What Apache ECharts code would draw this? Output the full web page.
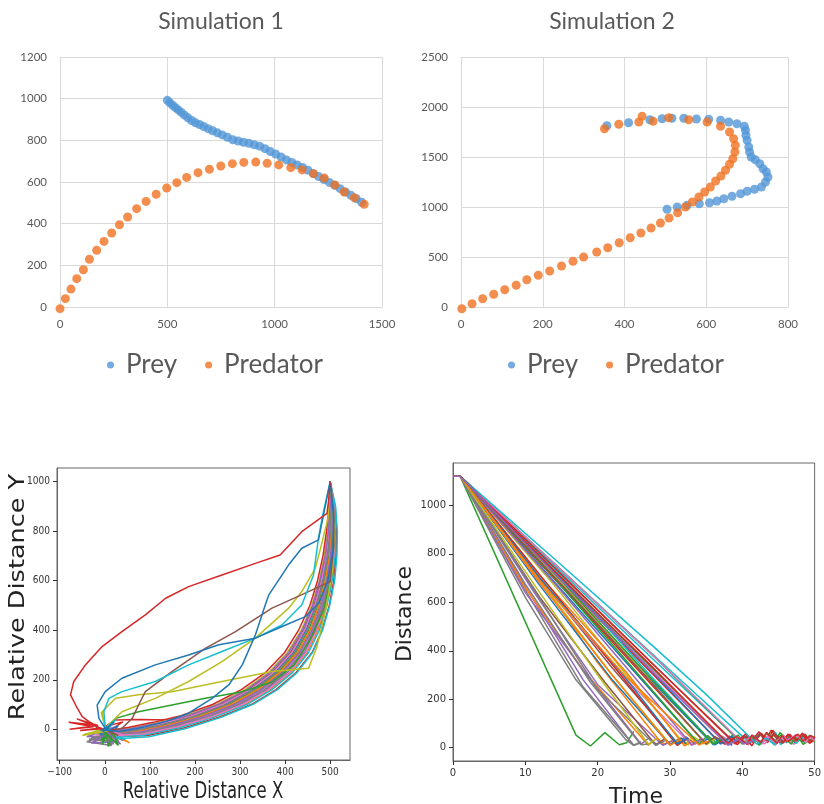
<!DOCTYPE html>
<html><head><meta charset="utf-8">
<script src="https://cdn.jsdelivr.net/npm/echarts@6/dist/echarts.min.js"></script>
<style>html,body{margin:0;padding:0;background:#fff}#c{width:824px;height:804px}</style>
</head><body><div id="c"></div>
<script>
// ---------- Simulation 1 ----------
const sim1PreyX = [500,512,525,538,551,565,580,596,613,631,650,670,690,711,733,756,780,805,830,855,880,905,930,955,980,1005,1030,1055,1080,1105,1130,1155,1180,1205,1230,1255,1280,1305,1330,1355,1380,1405];
const sim1PreyY = [992,980,968,957,946,934,921,908,895,884,876,866,856,846,836,826,815,803,797,791,786,779,772,760,746,734,720,706,694,682,670,657,640,626,612,598,584,568,552,536,520,503];
const sim1PredX = [0,25,51,78,109,137,171,205,241,277,315,357,401,448,497,544,590,643,696,749,803,856,912,965,1019,1075,1128,1181,1231,1280,1324,1371,1417];
const sim1PredY = [-8,40,86,136,179,229,272,315,355,395,432,472,507,541,571,597,622,645,661,677,688,694,696,690,682,669,658,640,619,586,552,525,493];
// ---------- Simulation 2 ----------
const sim2PreyX = [504,529,553,583,608,626,643,663,684,700,718,735,745,751,747,739,731,720,710,706,704,700,697,696,693,675,655,635,606,576,545,516,492,462,410,357];
const sim2PreyY = [977,1000,1017,1033,1043,1060,1083,1107,1133,1157,1177,1200,1250,1300,1350,1383,1433,1473,1500,1550,1600,1667,1717,1767,1807,1833,1850,1867,1877,1880,1887,1887,1883,1873,1843,1813];
const sim2PredX = [2,27,53,80,107,135,161,189,217,246,274,300,332,359,387,414,440,465,488,509,530,549,566,582,596,610,623,636,647,657,665,670,671,667,657,635,602,557,508,470,443,435,386,351];
const sim2PredY = [-17,33,83,127,173,217,273,317,360,410,457,500,550,593,643,693,740,790,840,890,943,1000,1050,1100,1150,1200,1260,1310,1367,1427,1483,1550,1617,1683,1750,1807,1850,1873,1893,1857,1907,1850,1827,1783];

const sim1XTicks = [0, 1500, 500];
const sim1YTicks = [0, 1200, 200];
const sim2XTicks = [0, 800, 200];
const sim2YTicks = [0, 2500, 500];
const legendNames = ['Prey', 'Predator'];

// ---------- Relative distance tracks (x,y flat pairs) ----------
const relativeTracks = [
 [500,1000,511,900,514,800,513,700,508,600,498,500,482,400,460,310,425,230,380,160,325,100,255,50,175,5,95,-25,25,-30,50,-10,10,-20],
 [500,1000,512,850,512,700,500,560,480,430,440,320,371,206,305,139,230,80,142,38,80,40,24,38,0,10,40,30,15,0],
 [500,1000,509,900,511,800,509,700,502,600,491,500,473,400,449,310,413,230,367,160,311,100,241,50,163,8,86,-21,20,-27,50,-50,5,-5,35,-30,10,0],
 [500,1000,507,900,508,800,506,700,498,600,486,500,467,400,443,310,406,230,359,160,302,100,232,51,156,10,82,-18,19,-24,-40,-30,15,5,40,-45,5,-5],
 [500,1000,506,900,506,800,503,700,495,600,482,500,462,400,436,310,399,230,351,160,293,100,223,52,149,13,78,-14,19,-21,30,-50,-20,-20,25,10,0,0],
 [500,1000,504,900,504,800,500,700,491,600,477,500,457,400,430,310,392,230,343,160,284,100,214,52,142,15,74,-10,18,-18,-30,-35,20,-60,-15,-15,35,-20,-25,-50,10,-5],
 [500,1000,512,900,516,800,515,700,510,600,499,500,483,400,461,310,427,230,383,160,328,100,258,48,178,2,98,-30,28,-38,10,-30,40,-10],
 [500,1000,503,900,502,800,497,700,487,600,473,500,452,400,424,310,385,230,335,160,275,100,205,53,135,18,70,-7,18,-15,10,-60,25,-5,-10,-45,5,0],
 [500,1000,502,900,499,800,493,700,483,600,468,500,446,400,418,310,378,230,327,160,266,100,196,53,128,20,66,-3,17,-12,30,15,-10,-20,20,-40],
 [500,1000,500,900,497,800,490,700,479,600,464,500,441,400,412,310,371,230,319,160,257,100,187,54,121,23,62,1,17,-9,-20,10,25,-25],
 [500,1000,499,900,495,800,487,700,476,600,459,500,436,400,405,310,364,230,311,160,248,100,178,54,114,25,58,5,16,-6,-45,-20,10,0],
 [500,1000,497,900,492,800,484,700,472,600,455,500,430,400,399,310,357,230,303,160,239,100,169,55,107,28,54,8,16,-3,20,-40,-10,5],
 [500,1000,504,900,503,800,499,700,489,600,475,500,455,400,427,310,388,230,339,160,280,100,210,52,138,16,72,-8,18,-16,55,-55,15,-10],
 [500,1000,505,900,505,800,501,700,493,600,480,500,460,400,433,310,395,230,347,160,288,100,218,52,145,14,76,-12,18,-20,35,-60,-5,-15,20,-35],
 [500,1000,501,900,498,800,491,700,481,600,466,500,443,400,415,310,374,230,323,160,261,100,191,53,124,22,64,-1,17,-10,15,-55,30,5],
 [500,1000,507,900,507,800,504,700,497,600,484,500,464,400,439,310,402,230,355,160,297,100,227,51,152,12,80,-16,19,-22,-35,-40,20,-50,-5,-5,40,-45],
 [500,1000,510,900,512,800,511,700,504,600,493,500,476,400,452,310,417,230,371,160,315,100,245,50,166,6,88,-23,20,-32,45,-40,20,-15],
 [500,1000,502,900,500,800,495,700,485,600,470,500,449,400,421,310,381,230,331,160,270,100,200,53,131,19,68,-5,17,-14,-40,-50,15,-65,0,0],
 [500,1000,500,900,496,800,489,700,477,600,461,500,438,400,408,310,367,230,315,160,252,100,182,54,117,24,60,3,16,-8,-30,-55,30,-50,0,-5],
 [500,1000,508,900,510,800,508,700,500,600,488,500,470,400,446,310,410,230,363,160,306,100,236,50,159,9,84,-19,20,-25,45,-25,10,-5],
 [500,1000,510,800,503,620,485,480,455,360,420,260,370,190,305,152,223,125,149,98,75,71,24,44,1,4,8,-70,18,-10,30,-65,5,-20,-5,-60,0,0],
 [500,1000,510,820,505,640,490,480,470,330,452,246,371,233,260,193,149,152,75,139,24,125,-6,71,1,4,-8,70,2,10],
 [500,1000,495,850,480,740,467,650,437,556,408,489,334,368,260,273,186,193,112,125,38,71,1,4,-50,-25,10,-5],
 [500,1000,508,880,508,740,500,596,452,556,371,489,290,394,223,327,149,233,90,152,75,98,61,44,38,4,10,-10,30,-25,0,0],
 [500,1000,482,852,474,771,463,623,437,502,393,421,334,368,260,314,186,260,112,193,38,152,9,125,-2,71,1,4,25,40,5,-5],
 [500,1000,508,850,506,720,495,600,475,510,445,455,400,420,334,368,253,341,186,300,112,260,38,206,1,152,-17,98,-13,44,1,4,-10,-5,5,10],
 [500,1000,474,765,437,731,408,664,364,543,356,502,334,381,305,260,275,179,238,125,186,65,135,31,75,4,31,-9,1,-3,20,30,-5,-10,10,5],
 [500,1000,497,930,493,872,437,798,389,704,334,670,260,623,186,576,135,529,90,462,38,394,-6,334,-43,260,-69,192,-76,139,-61,85,-50,51,-35,31,-21,17,-80,28,-25,10,-78,0,-15,15,-62,42,-10,5,-55,-5,-5,2]
];
const relativeTrackColors = ['#d62728','#d62728','#ff7f0e','#9467bd','#e377c2','#7f7f7f','#17becf','#2ca02c','#1f77b4','#8c564b','#bcbd22','#d62728','#ff7f0e','#9467bd','#e377c2','#7f7f7f','#17becf','#7f7f7f','#9467bd','#e377c2','#2ca02c','#bcbd22','#bcbd22','#8c564b','#17becf','#1f77b4','#1f77b4','#d62728'];
const relXTicks = [-100,0,100,200,300,400,500];
const relYTicks = [0,200,400,600,800,1000];

// ---------- Distance vs time tracks (t,d flat pairs) ----------
const distanceTracks = [
 [0,1120,1,1120,12,752,24,350,34,15,35.4,40,36.2,12,37.5,35,38.3,18],
 [0,1120,1,1120,12,700,20,350,29,12,30.3,30,31.1,8],
 [0,1120,1,1120,17,52,19,7,21,62,23,12,24,20,25,67],
 [0,1120,1,1120,12,782,25,383,37,18,38.5,45,39.3,12,40.6,50,41.4,22,42.7,58,43.5,20,44.2,72,45.4,28,46.6,55,47.3,18,48.5,52,49.2,26,50,44],
 [0,1120,1,1120,10,665,18,280,25,8],
 [0,1120,1,1120,12,700,22,330,31,20,32.2,45,33.5,15,34.3,40],
 [0,1120,1,1120,12,772,25,362,36,18,37.2,48,38.7,22,39.5,40,40.8,12,41.6,38,43.1,16,43.9,42,45.2,22,46.4,46,47.1,14,48.3,40,49.6,24,50,30],
 [0,1120,1,1120,10,650,18,250,25,10,26,20],
 [0,1120,1,1120,12,690,22,300,30,15,31.4,40,32.6,10],
 [0,1120,1,1120,12,816,25,457,34,210,41,20,42.4,58,43.1,30,44.6,62,45.3,12,46.2,48,47.5,18,48.1,44,49.4,22,50,36],
 [0,1120,1,1120,14,700,26,320,36,12,37.3,35,38.6,10],
 [0,1120,1,1120,10,660,18,320,27,10,28.2,40,29.4,12],
 [0,1120,1,1120,14,731,27,343,38,20,39.4,52,40.2,24,41.7,48,42.3,10,43.6,42,44.5,18,45.2,62,46.5,26,47.8,42,48.4,14,49.7,38,50,22],
 [0,1120,1,1120,14,697,26,307,35,15,36.3,42,37.6,14,38.2,48,39.5,22,40.4,46,41.3,8,42.5,56,43.2,28,44,72,45.1,22,46.3,52,47.5,28,48.2,56,49.3,18,50,34],
 [0,1120,1,1120,10,640,18,320,26,15,27.1,40,28.3,10],
 [0,1120,1,1120,14,742,28,334,39,20,40.2,48,41.6,28,42.4,58,43.7,32,44.3,52,45.6,18,46.5,44,47.2,26,48.7,56,49.4,28,50,40],
 [0,1120,1,1120,12,690,24,280,33,10,34.5,35,35.2,12],
 [0,1120,1,1120,10,675,19,270,26,12,27,15],
 [0,1120,1,1120,14,670,24,300,32,15,33.3,45,34.7,15],
 [0,1120,1,1120,14,752,28,356,40,18,41.2,45,42.6,15,43.3,40,44.5,10,45.4,35,46.2,20],
 [0,1120,1,1120,12,670,22,280,30,12,31.6,40,32.2,15],
 [0,1120,1,1120,12,710,24,310,32,8,33.4,30,34.1,10],
 [0,1120,1,1120,14,700,26,290,34,15,35.2,50,36.5,18],
 [0,1120,1,1120,14,640,24,270,31,10,32.3,35],
 [0,1120,1,1120,11,650,20,260,29,10,30.5,30],
 [0,1120,1,1120,12,620,21,270,28,12,29.2,35],
 [0,1120,1,1120,14,722,27,335,38,15,39.6,42,40.3,18,41.2,44,42.8,16,43.4,48,44.6,12,45.5,38,46.7,22,47.4,46,48.6,24,49.5,42,50,25],
 [0,1120,1,1120,11,660,20,240,28,10,29.4,30,30.2,12],
 [0,1120,1,1120,14,710,26,320,35,12,36.4,40],
 [0,1120,1,1120,14,740,26,340,36,15,37.1,45,38.4,20],
 [0,1120,1,1120,14,725,27,330,37,15,38.6,50,39.2,20],
 [0,1120,1,1120,12,680,22,300,30,10,31.5,35],
 [0,1120,1,1120,14,760,28,370,40,15,41.3,46,42.5,18,43.4,62,44.7,24,45.3,52,46.8,14,47.2,44,48.6,22,49.3,52,50,25],
 [0,1120,1,1120,14,745,28,335,39,15,40.5,58,41.2,24,42.3,66,43.6,28,44.4,58,45.7,22,46.3,56,47.6,32,48.3,60,49.5,26,50,45],
 [0,1120,1,1120,14,680,24,330,33,12,34.4,35],
 [0,1120,1,1120,14,705,26,315,35,15,36.2,45,37.7,20],
 [0,1120,1,1120,14,760,28,370,40,20,41.5,52,42.2,22,43.8,46,44.4,18,45.7,52,46.2,28,47.4,54,48.8,22,49.2,46,50,30],
 [0,1120,1,1120,10,620,17,280,24,30,25,10,26,25],
 [0,1120,1,1120,12,640,20,300,27,15,28.3,40],
 [0,1120,1,1120,14,780,28,410,35,220,42,15,43.2,40,44.5,15,45.3,35],
 [0,1120,1,1120,12,700,23,320,31,15,32.4,40],
 [0,1120,1,1120,12,690,24,290,34,12,35.6,30],
 [0,1120,1,1120,14,720,26,330,36,15,37.4,40],
 [0,1120,1,1120,14,730,27,350,38,18,39.2,46,40.7,14,41.3,52,42.6,22,43.3,62,44.8,18,45.5,50,46.2,24,47.7,56,48.4,28,49.5,50,50,40],
 [0,1120,1,1120,14,720,27,330,38,10,39.5,35,40.2,15,41.6,30]
];
const timeTicks = [0, 50, 10];
const distYTicks = [0,200,400,600,800,1000];

// ---------- helpers ----------
const tab10 = ['#1f77b4','#ff7f0e','#2ca02c','#d62728','#9467bd','#8c564b','#e377c2','#7f7f7f','#bcbd22','#17becf'];
const zip = (xs, ys) => xs.map((x, i) => [x, ys[i]]);
const toPairs = a => { const r = []; for (let i = 0; i < a.length; i += 2) r.push([a[i], a[i + 1]]); return r; };
const plain = v => String(v);
const minus = v => String(v).replace('-', '\u2212');

const preyColor = '#5296D6';
const predColor = '#F07222';
const excelText = { color: '#595959', fontFamily: 'Lato', fontSize: 11.5, formatter: plain };
const gridLine = { show: true, lineStyle: { color: '#D9D9D9', width: 1 } };
function excelX(i, t) {
  return { gridIndex: i, type: 'value', min: t[0], max: t[1], interval: t[2],
    axisLine: { show: true, onZero: false, lineStyle: { color: '#D9D9D9' } }, axisTick: { show: false },
    splitLine: gridLine, axisLabel: Object.assign({ margin: 11 }, excelText) };
}
function excelY(i, t) {
  return { gridIndex: i, type: 'value', min: t[0], max: t[1], interval: t[2],
    axisLine: { show: false, onZero: false }, axisTick: { show: false },
    splitLine: gridLine, axisLabel: Object.assign({ margin: 13 }, excelText) };
}
const mplText = { color: '#333', fontFamily: 'DejaVu Sans', fontSize: 10 };
const mplTick = { show: true, inside: false, length: 4, lineStyle: { color: '#333', width: 1 } };
const mplLine = { show: true, onZero: false, lineStyle: { color: '#666', width: 1 } };

const chart = echarts.init(document.getElementById('c'), null, { renderer: 'canvas' });

const series = [
  { name: 'Prey', type: 'scatter', xAxisIndex: 0, yAxisIndex: 0, data: zip(sim1PreyX, sim1PreyY), symbolSize: 9, itemStyle: { color: preyColor }, clip: false },
  { name: 'Predator', type: 'scatter', xAxisIndex: 0, yAxisIndex: 0, data: zip(sim1PredX, sim1PredY), symbolSize: 9, itemStyle: { color: predColor }, clip: false },
  { name: 'Prey', type: 'scatter', xAxisIndex: 1, yAxisIndex: 1, data: zip(sim2PreyX, sim2PreyY), symbolSize: 9, itemStyle: { color: preyColor }, clip: false },
  { name: 'Predator', type: 'scatter', xAxisIndex: 1, yAxisIndex: 1, data: zip(sim2PredX, sim2PredY), symbolSize: 9, itemStyle: { color: predColor }, clip: false }
];
relativeTracks.forEach((t, i) => series.push({
  type: 'line', xAxisIndex: 2, yAxisIndex: 2, data: toPairs(t), symbol: 'none', showSymbol: false, silent: true,
  lineStyle: { width: 1.5, color: relativeTrackColors[i] }, itemStyle: { color: relativeTrackColors[i] }
}));
distanceTracks.forEach((t, i) => series.push({
  type: 'line', xAxisIndex: 3, yAxisIndex: 3, data: toPairs(t), symbol: 'none', showSymbol: false, silent: true,
  lineStyle: { width: 1.5, color: tab10[i % 10] }, itemStyle: { color: tab10[i % 10] }
}));

const legendBase = { orient: 'horizontal', icon: 'circle', itemWidth: 7, itemHeight: 7, itemGap: 28, selectedMode: false,
  data: legendNames, textStyle: { fontFamily: 'Lato', fontSize: 26, color: '#595959', padding: [0, 0, 0, 7] } };

chart.setOption({
  animation: false,
  backgroundColor: '#ffffff',
  grid: [
    { left: 60, top: 57, width: 322, height: 250 },
    { left: 461, top: 57, width: 327, height: 250 },
    { left: 57, top: 468, width: 293, height: 292, show: true, borderColor: '#666', borderWidth: 1, backgroundColor: 'transparent' },
    { left: 453, top: 463, width: 367, height: 298, show: true, borderColor: '#666', borderWidth: 1, backgroundColor: 'transparent' }
  ],
  xAxis: [
    excelX(0, sim1XTicks), excelX(1, sim2XTicks),
    { gridIndex: 2, type: 'value', min: -106, max: 544, axisLine: mplLine, splitLine: { show: false },
      axisTick: Object.assign({ customValues: relXTicks }, mplTick),
      axisLabel: Object.assign({ customValues: relXTicks, formatter: minus, margin: 7 }, mplText, { fontFamily: 'DejaVu Sans Condensed, DejaVu Sans' }) },
    { gridIndex: 3, type: 'value', min: timeTicks[0], max: timeTicks[1], interval: timeTicks[2], axisLine: mplLine, splitLine: { show: false },
      axisTick: mplTick, axisLabel: Object.assign({ margin: 7, formatter: plain }, mplText) }
  ],
  yAxis: [
    excelY(0, sim1YTicks), excelY(1, sim2YTicks),
    { gridIndex: 2, type: 'value', min: -124, max: 1055, axisLine: mplLine, splitLine: { show: false },
      axisTick: Object.assign({ customValues: relYTicks }, mplTick),
      axisLabel: Object.assign({ customValues: relYTicks, formatter: minus, margin: 7 }, mplText, { fontFamily: 'DejaVu Sans Condensed, DejaVu Sans' }) },
    { gridIndex: 3, type: 'value', min: -55, max: 1175, axisLine: mplLine, splitLine: { show: false },
      axisTick: Object.assign({ customValues: distYTicks }, mplTick),
      axisLabel: Object.assign({ customValues: distYTicks, margin: 7, formatter: plain }, mplText) }
  ],
  legend: [
    Object.assign({ left: 102, top: 347 }, legendBase),
    Object.assign({ left: 503, top: 347 }, legendBase)
  ],
  graphic: [
    { type: 'text', x: 221, y: 22, style: { text: 'Simulation 1', fontFamily: 'Lato', fontSize: 23, fill: '#595959', align: 'center', verticalAlign: 'middle' } },
    { type: 'text', x: 612, y: 22, style: { text: 'Simulation 2', fontFamily: 'Lato', fontSize: 23, fill: '#595959', align: 'center', verticalAlign: 'middle' } },
    { type: 'text', x: 203, y: 792, scaleX: 0.73, style: { text: 'Relative Distance X', fontFamily: 'DejaVu Sans', fontSize: 22.6, fill: '#222', align: 'center', verticalAlign: 'middle' } },
    { type: 'text', x: 19, y: 597, rotation: Math.PI / 2, scaleX: 1.13, scaleY: 0.91, style: { text: 'Relative Distance Y', fontFamily: 'DejaVu Sans', fontSize: 22.6, fill: '#222', align: 'center', verticalAlign: 'middle' } },
    { type: 'text', x: 405, y: 614, rotation: Math.PI / 2, style: { text: 'Distance', fontFamily: 'DejaVu Sans', fontSize: 22, fill: '#222', align: 'center', verticalAlign: 'middle' } },
    { type: 'text', x: 636, y: 797, style: { text: 'Time', fontFamily: 'DejaVu Sans', fontSize: 22, fill: '#222', align: 'center', verticalAlign: 'middle' } }
  ],
  series: series
});
</script></body></html>
